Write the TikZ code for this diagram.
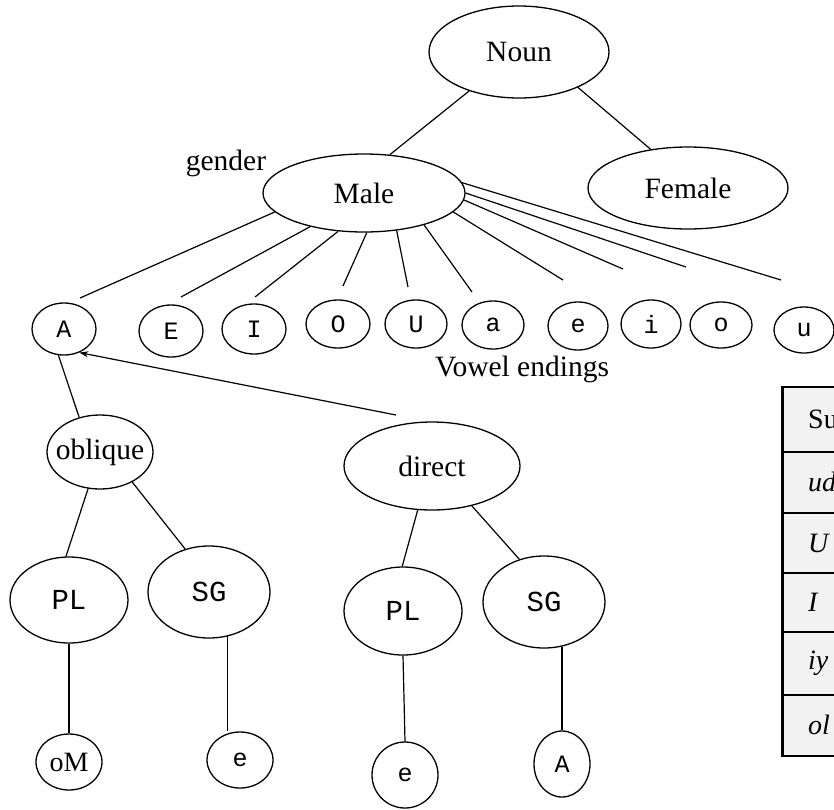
\documentclass[tikz,border=0pt]{standalone}
\usepackage{fontspec}
\setmainfont{Liberation Serif}
\newfontfamily\monof{Liberation Mono}
\usetikzlibrary{shapes.geometric,arrows.meta}
\newcommand\zw[1]{\makebox[0pt]{#1}}
\begin{document}
\begin{tikzpicture}[x=1pt,y=-1pt,
  ell/.style={draw, ellipse, inner sep=0pt, line width=1.3pt},
  lab/.style={font=\fontsize{29.5}{31}\selectfont},
  vow/.style={font=\monof\fontsize{25}{27}\selectfont},
  bigm/.style={font=\monof\fontsize{29}{31}\selectfont},
  tabt/.style={font=\fontsize{28}{30}\selectfont, anchor=west, inner sep=0pt},
  edge/.style={line width=1.2pt}]
\useasboundingbox (0,0) rectangle (834,809);

% top
\node[ell,lab,minimum width=180pt,minimum height=92pt] (noun) at (519,52) {\zw{Noun}};
\node[ell,lab,minimum width=202pt,minimum height=78pt] (male) at (364,193) {\zw{Male}};
\node[ell,lab,minimum width=200pt,minimum height=82pt] (female) at (688,188) {\zw{Female}};
\node[lab] (gender) at (226,163) {gender};

\draw[edge] (noun.218) -- (male.56);
\draw[edge] (noun.329) -- (female.134);

% vowel circles
\node[ell,vow,minimum width=64pt,minimum height=52pt] (vA) at (64,329) {A};
\node[ell,vow,minimum width=64pt,minimum height=52pt] (vE) at (171,331) {E};
\node[ell,vow,minimum width=64pt,minimum height=50pt] (vI) at (254,329) {I};
\node[ell,vow,minimum width=64pt,minimum height=48pt] (vO) at (338,324) {O};
\node[ell,vow,minimum width=62pt,minimum height=48pt] (vU) at (416,324) {U};
\node[ell,vow,minimum width=62pt,minimum height=48pt] (va) at (493,325) {a};
\node[ell,vow,minimum width=60pt,minimum height=48pt] (ve) at (578,326) {e};
\node[ell,vow,minimum width=60pt,minimum height=48pt] (vi) at (651,324) {i};
\node[ell,vow,minimum width=62pt,minimum height=46pt] (vo) at (721,325) {o};
\node[ell,vow,minimum width=60pt,minimum height=46pt] (vu) at (804,330) {\raisebox{-4pt}{u}};
\node[lab] (vend) at (522,369) {Vowel endings};

% male to vowels
\coordinate (mA) at (80,298);
\coordinate (mE) at (181,297);
\coordinate (mI) at (255,297);
\coordinate (mO) at (343,286);
\coordinate (mU) at (408,287);
\coordinate (ma) at (472,292);
\coordinate (me) at (563,280);
\coordinate (mi) at (623,269);
\coordinate (mo) at (686,267);
\coordinate (mu) at (781,280);
\draw[edge] (male.192.5) -- (mA);
\draw[edge] (male.212) -- (mE);
\draw[edge] (male.236) -- (mI);
\draw[edge] (male.274) -- (mO);
\draw[edge] (male.311) -- (mU);
\draw[edge] (male.332) -- (ma);
\draw[edge] (male.348) -- (me);
\draw[edge] (male.356) -- (mi);
\draw[edge] (male.0) -- (mo);
\draw[edge] (male.6) -- (mu);

% lower tree
\node[ell,lab,minimum width=106pt,minimum height=74pt] (obl) at (100,452) {\zw{oblique}};
\node[ell,lab,minimum width=176pt,minimum height=88pt] (dir) at (432,466) {\zw{direct}};
\node[ell,bigm,minimum width=118pt,minimum height=86pt] (pl1) at (69,600) {PL};
\node[ell,bigm,minimum width=122pt,minimum height=92pt] (sg1) at (209,592) {SG};
\node[ell,bigm,minimum width=118pt,minimum height=88pt] (pl2) at (403,611) {PL};
\node[ell,bigm,minimum width=122pt,minimum height=92pt] (sg2) at (544,602) {SG};
\node[ell,font=\fontsize{28}{30}\selectfont,minimum width=66pt,minimum height=56pt] (om) at (69,762) {\zw{oM}};
\node[ell,vow,minimum width=66pt,minimum height=56pt] (e1) at (240,760) {e};
\node[ell,vow,minimum width=66pt,minimum height=66pt] (e2) at (405,775) {e};
\node[ell,vow,minimum width=56pt,minimum height=66pt] (a2) at (562,764) {A};

\coordinate (dstart) at (396,415);
\draw[edge,-{Stealth[length=9pt,width=6pt]}] (dstart) -- (vA.303);
\draw[edge] (vA.258) -- (obl.121);
\draw[edge] (obl.252) -- (pl1.94);
\draw[edge] (obl.317) -- (sg1.119);
\draw[edge] (dir.252) -- (pl2.91);
\draw[edge] (dir.315) -- (sg2.120);
\draw[edge] (pl1.south) -- (om.north);
\draw[edge] (sg1.293) -- (sg1.293 |- e1.north);
\draw[edge] (pl2.south) -- (e2.north);
\draw[edge] (sg2.292) -- (sg2.292 |- a2.north);

% table (cut by the picture edge)
\begin{scope}
\clip (0,0) rectangle (834,809);
\fill[gray!10] (782,387) rectangle (845,756);
\draw[line width=2pt] (845,387) -- (782,387) -- (782,756) -- (845,756);
\draw[line width=3pt] (782,386) -- (782,757);
\foreach \yy in {452,513,573,632,695} \draw[line width=2pt] (782,\yy) -- (845,\yy);
\node[tabt] (t1) at (808,419) {Su};
\node[tabt] (t2) at (808,482) {\itshape ud};
\node[tabt] (t3) at (808,543) {\itshape U};
\node[tabt] (t4) at (808,602) {\itshape I};
\node[tabt] (t5) at (808,663) {\itshape iy};
\node[tabt] (t6) at (808,725) {\itshape ol};
\end{scope}
\end{tikzpicture}
\end{document}
